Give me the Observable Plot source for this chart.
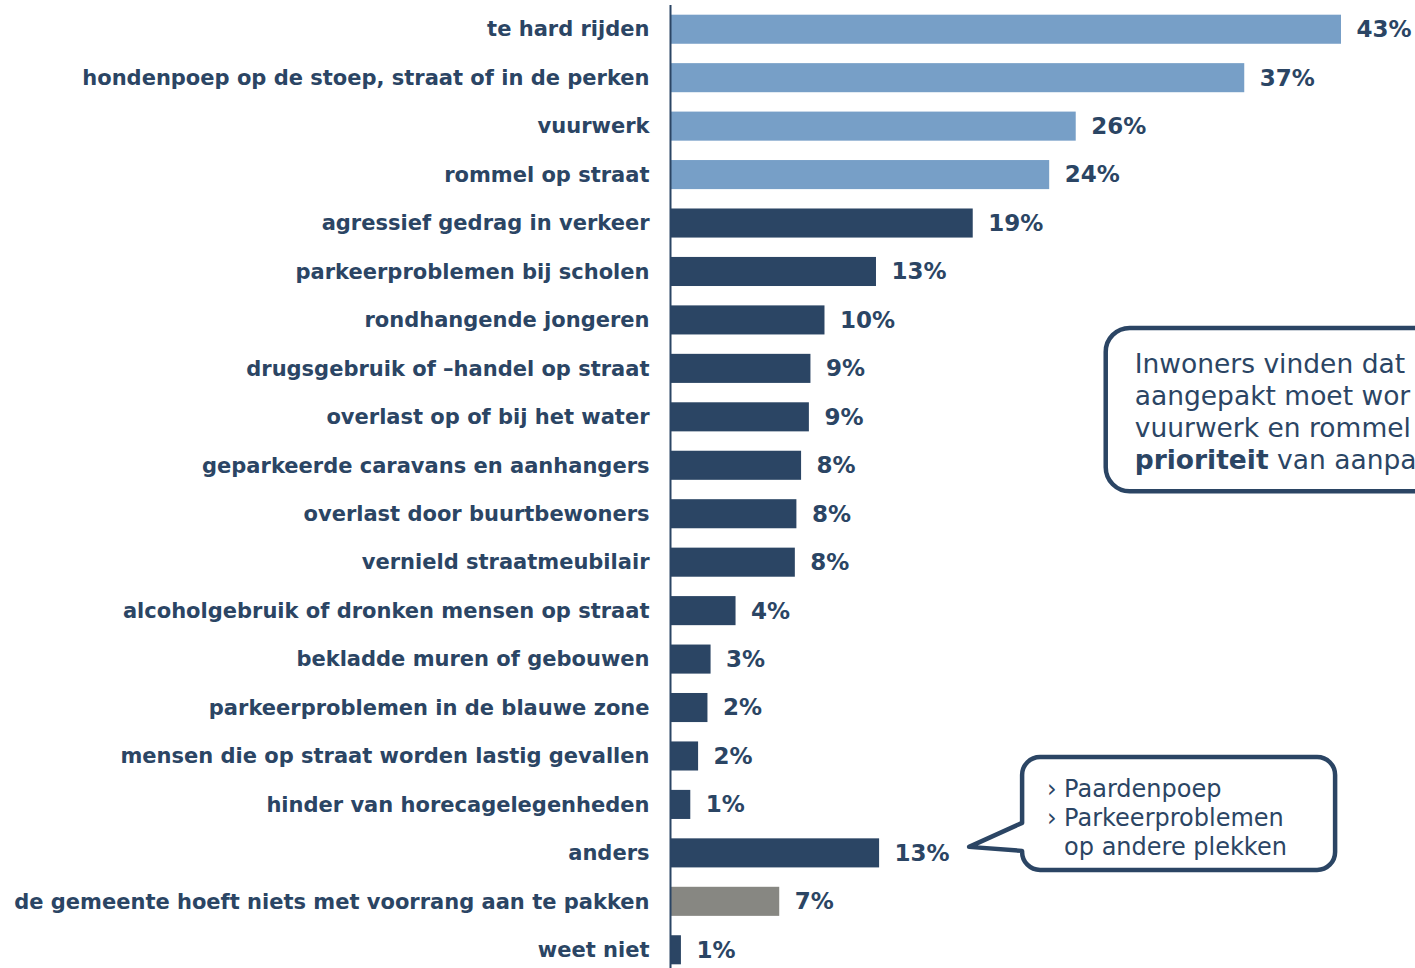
<!DOCTYPE html>
<html><head><meta charset="utf-8">
<script src="https://cdn.jsdelivr.net/npm/d3@7"></script>
<script src="https://cdn.jsdelivr.net/npm/@observablehq/plot@0.6"></script>
<style>body{margin:0;background:#fff;overflow:hidden} svg{display:block}</style>
</head><body><div id="chart"></div>
<script>
const categories = [
  "te hard rijden",
  "hondenpoep op de stoep, straat of in de perken",
  "vuurwerk",
  "rommel op straat",
  "agressief gedrag in verkeer",
  "parkeerproblemen bij scholen",
  "rondhangende jongeren",
  "drugsgebruik of \u2013handel op straat",
  "overlast op of bij het water",
  "geparkeerde caravans en aanhangers",
  "overlast door buurtbewoners",
  "vernield straatmeubilair",
  "alcoholgebruik of dronken mensen op straat",
  "bekladde muren of gebouwen",
  "parkeerproblemen in de blauwe zone",
  "mensen die op straat worden lastig gevallen",
  "hinder van horecagelegenheden",
  "anders",
  "de gemeente hoeft niets met voorrang aan te pakken",
  "weet niet"
];
const values = [43.0, 36.8, 26.0, 24.3, 19.4, 13.2, 9.9, 9.0, 8.9, 8.4, 8.1, 8.0, 4.2, 2.6, 2.4, 1.8, 1.3, 13.4, 7.0, 0.7];
const pctLabels = [43, 37, 26, 24, 19, 13, 10, 9, 9, 8, 8, 8, 4, 3, 2, 2, 1, 13, 7, 1];
const groups = ["top","top","top","top","rest","rest","rest","rest","rest","rest","rest","rest","rest","rest","rest","rest","rest","rest","geen","rest"];
const calloutLines = ["\u203A Paardenpoep", "\u203A Parkeerproblemen", "op andere plekken"];
const noteLines = [
  [{t:"Inwoners vinden dat", b:false}],
  [{t:"aangepakt moet wor", b:false}],
  [{t:"vuurwerk en rommel", b:false}],
  [{t:"prioriteit", b:true}, {t:" van aanpa", b:false}]
];

const navy = "#2b4564";
const data = categories.map((c, i) => ({category: c, value: values[i], label: pctLabels[i] + "%", group: groups[i]}));

function annotations(index, scales, vals, dims) {
  const {x, y} = scales;
  const bw = y.bandwidth();
  const cy = c => y(c) + bw / 2;
  const g = d3.create("svg:g").attr("text-anchor", "start");
  // Note box (clipped at right edge)
  const nL = x(values[2]) + 30, nT = cy(categories[6]) + 8, nB = cy(categories[9]) + 26, nR = dims.width + 200, r = 24;
  g.append("path")
    .attr("d", `M${nL + r},${nT} H${nR} V${nB} H${nL + r} A${r},${r} 0 0 1 ${nL},${nB - r} V${nT + r} A${r},${r} 0 0 1 ${nL + r},${nT} Z`)
    .attr("fill", "white").attr("stroke", navy).attr("stroke-width", 4.5);
  const nt = g.append("text").attr("font-family", "'DejaVu Sans', Verdana, sans-serif").attr("font-size", 26.5).attr("fill", navy);
  noteLines.forEach((line, i) => {
    const ts = nt.append("tspan").attr("x", nL + 29).attr("y", nT + 45 + i * 32);
    line.forEach((seg, j) => {
      const s = j === 0 ? ts : nt.append("tspan");
      s.text(seg.t).attr("font-weight", seg.b ? "bold" : "normal");
    });
  });
  // Callout bubble for "anders"
  const tipX = x(values[17]) + 90, tipY = cy("anders") - 6;
  const L = tipX + 53, T = cy(categories[15]) + 1, R = L + 313, B = cy("anders") + 17, rr = 18;
  g.append("path")
    .attr("d", `M${L + rr},${T} H${R - rr} A${rr},${rr} 0 0 1 ${R},${T + rr} V${B - rr} A${rr},${rr} 0 0 1 ${R - rr},${B} H${L + rr} A${rr},${rr} 0 0 1 ${L},${B - rr} V${tipY + 4} L${tipX},${tipY} L${L},${tipY - 24} V${T + rr} A${rr},${rr} 0 0 1 ${L + rr},${T} Z`)
    .attr("fill", "white").attr("stroke", navy).attr("stroke-width", 4.5).attr("stroke-linejoin", "round");
  const ct = g.append("text").attr("font-family", "'DejaVu Sans', Verdana, sans-serif").attr("font-size", 24).attr("fill", navy);
  calloutLines.forEach((line, i) => {
    const isBullet = line.startsWith("\u203A");
    if (isBullet) {
      ct.append("tspan").attr("x", L + 25).attr("y", T + 40 + i * 29).text("\u203A");
      ct.append("tspan").attr("x", L + 42).text(line.slice(2));
    } else {
      ct.append("tspan").attr("x", L + 42).attr("y", T + 40 + i * 29).text(line);
    }
  });
  return g.node();
}

const chart = Plot.plot({
  width: 1415,
  height: 975,
  marginLeft: 670,
  marginRight: 74,
  marginTop: 5,
  marginBottom: 1,
  style: {fontFamily: "'DejaVu Sans', Verdana, sans-serif", color: navy, background: "white"},
  x: {domain: [0, 43], axis: null},
  y: {domain: categories, paddingInner: 0.4, paddingOuter: 0.2, round: false, label: null},
  color: {domain: ["top", "rest", "geen"], range: ["#779fc7", "#2b4564", "#878782"]},
  marks: [
    Plot.barX(data, {x: "value", y: "category", fill: "group"}),
    Plot.text(data, {x: "value", y: "category", text: "label", dx: 15, textAnchor: "start", fontWeight: "bold", fontSize: 23, fill: navy}),
    Plot.axisY({tickSize: 0, tickPadding: 21, fontSize: 21, fontWeight: "bold", fill: navy, label: null}),
    Plot.ruleX([0], {stroke: navy, strokeWidth: 2}),
    annotations
  ]
});
chart.querySelectorAll("[aria-label='y-axis tick label'] text").forEach(t => t.setAttribute("font-weight", "bold"));
document.getElementById("chart").appendChild(chart);
</script>
</body></html>
